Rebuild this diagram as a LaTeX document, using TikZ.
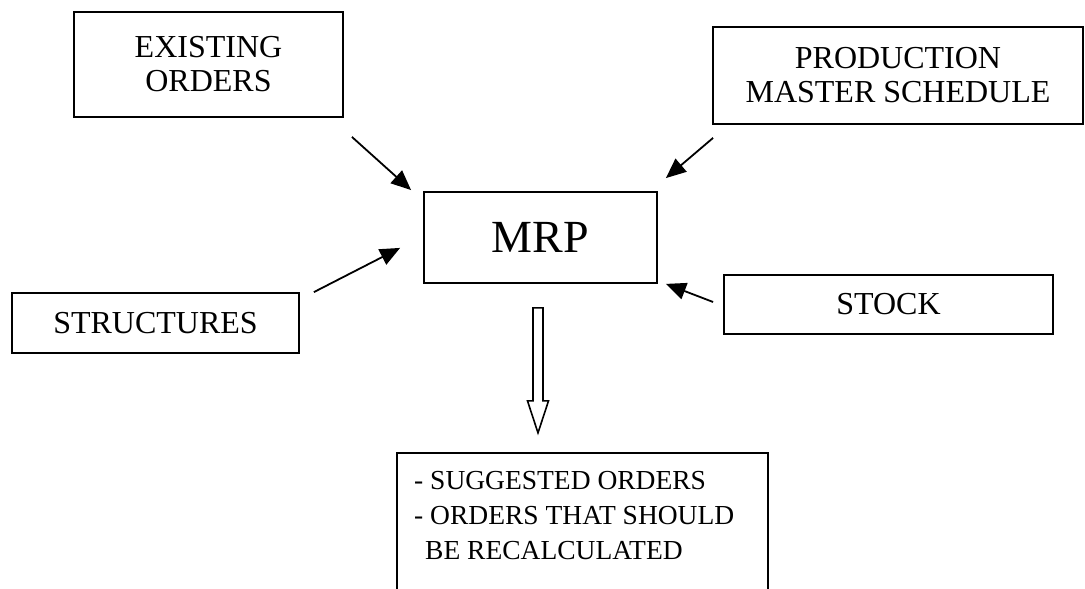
\documentclass[tikz,border=0pt]{standalone}
\usepackage{fontspec}
\setmainfont{Liberation Serif}
\usetikzlibrary{arrows.meta}
\begin{document}
\begin{tikzpicture}[x=1pt,y=-1pt,
  box/.style={draw,line width=1.8pt,inner sep=0pt,align=center,font=\fontsize{32}{34}\selectfont},
  feed/.style={line width=1.8pt,-{Triangle[length=20pt,width=17pt]}},
  hollow/.style={draw,line width=1.6pt,line join=miter}]
\useasboundingbox (0,0) rectangle (1085,589);
\node[box,minimum width=269pt,minimum height=105pt] (exist) at (208.5,64.5) {EXISTING\\ORDERS};
\node[box,minimum width=370pt,minimum height=97pt] (prod) at (898,75.5) {PRODUCTION\\MASTER SCHEDULE};
\node[box,minimum width=233pt,minimum height=91pt,font=\fontsize{46}{50}\selectfont] (mrp) at (540.5,237.5) {MRP};
\node[box,minimum width=287pt,minimum height=60pt] (struct) at (155.5,323) {STRUCTURES};
\node[box,minimum width=329pt,minimum height=59pt] (stock) at (888.5,304.5) {STOCK};
\node[inner sep=0pt,minimum width=371pt,minimum height=136pt] (out) at (582.5,521) {};
\draw[line width=1.8pt] (out.south west) -- (out.north west) -- (out.north east) -- (out.south east);
\node[inner sep=0pt,anchor=north west,align=left,font=\fontsize{27.5}{35}\selectfont] (outtext) at (414,471)
  {- SUGGESTED ORDERS\\- ORDERS THAT SHOULD\\\hspace*{11pt}BE RECALCULATED};
\draw[feed] ([shift={(8,19)}]exist.south east) -- ([shift={(-12,-1)}]mrp.north west);
\draw[feed] ([shift={(1,13)}]prod.south west) -- ([shift={(8,-13)}]mrp.north east);
\draw[feed] ([shift={(14,0)}]struct.north east) -- ([shift={(-23,-36)}]mrp.south west);
\draw[feed] ([shift={(-10,-2.5)}]stock.west) -- ([shift={(8,0)}]mrp.south east);
\coordinate (bt) at ([shift={(-2.5,24)}]mrp.south);
\coordinate (bb) at ([shift={(0,125)}]bt);
\draw[hollow] ([xshift=-5pt]bt) -- ([xshift=5pt]bt) -- ([shift={(5,93)}]bt) -- ([shift={(10.5,93)}]bt)
  -- (bb) -- ([shift={(-10.5,93)}]bt) -- ([shift={(-5,93)}]bt) -- cycle;
\end{tikzpicture}
\end{document}
